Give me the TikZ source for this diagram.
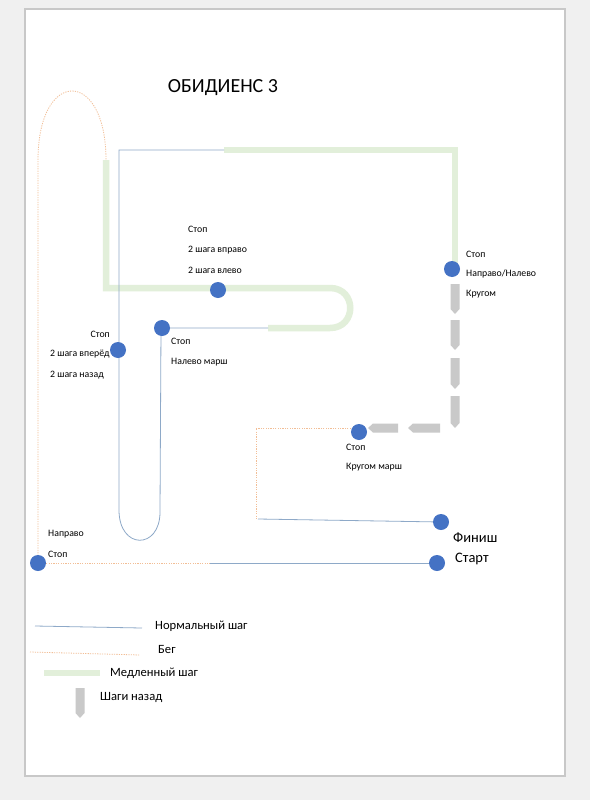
\documentclass[tikz,border=0pt]{standalone}
\usepackage{fontspec}
\setmainfont{Carlito}
\definecolor{pagebg}{HTML}{F0F0F0}
\definecolor{pageedge}{HTML}{C8C8C8}
\definecolor{walkblue}{HTML}{8EA9C8}
\definecolor{runorange}{HTML}{F2BE96}
\definecolor{slowgreen}{HTML}{E2EFDA}
\definecolor{dotblue}{HTML}{4472C4}
\definecolor{backgray}{HTML}{C9C9C9}
\tikzset{
  walk/.style={draw=walkblue, line width=0.8pt},
  run/.style={draw=runorange, line width=0.8pt, dash pattern=on 1.2pt off 1.2pt},
  slow/.style={draw=slowgreen, line width=6.5pt},
  dot/.style={circle, fill=dotblue, inner sep=0pt, minimum size=16pt},
  lbl/.style={anchor=west, inner sep=0pt, font=\fontsize{9.8}{11}\selectfont},
  leg/.style={anchor=west, inner sep=0pt, font=\fontsize{12.6}{14}\selectfont},
  big/.style={anchor=west, inner sep=0pt, font=\fontsize{14.5}{16}\selectfont},
  backarrow/.style={fill=backgray, draw=none}
}
\newcommand{\downarrowshape}[3]{% cx, top, bottom
  \fill[backarrow] (#1-4.5,#2) -- (#1+4.5,#2) -- (#1+4.5,#3-5) -- (#1,#3) -- (#1-4.5,#3-5) -- cycle;}
\newcommand{\leftarrowshape}[3]{% cy, left, right
  \fill[backarrow] (#2,#1) -- (#2+5,#1-4.5) -- (#3,#1-4.5) -- (#3,#1+4.5) -- (#2+5,#1+4.5) -- cycle;}
\begin{document}
\begin{tikzpicture}[x=1pt,y=-1pt]
% page
\fill[pagebg] (0,0) rectangle (590,800);
\useasboundingbox (0,0) rectangle (590,800);
\filldraw[fill=white, draw=pageedge, line width=2pt] (25,9) rectangle (565,776);

% title
\node[anchor=center, inner sep=0pt, font=\fontsize{20}{22}\selectfont] (title) at (223,88) {ОБИДИЕНС 3};

% coordinates
\coordinate (gA) at (106,160);
\coordinate (gB) at (106,288);
\coordinate (gC) at (330,288);
\coordinate (gD) at (330,328);
\coordinate (gE) at (268,328);
\coordinate (gF) at (224,150);
\coordinate (gG) at (455,150);
\coordinate (gH) at (455,263);

% slow (green)
\draw[slow] (gA) -- (gB) -- (gC) .. controls (357,288) and (357,328) .. (gD) -- (gE);
\draw[slow] (gF) -- (gG) -- (gH);

% normal walk (blue)
\draw[walk] (gF) -- (119,150) -- (119,510) .. controls (119,550) and (160,550) .. (160,512) -- (161,328) -- (gE);

% running (orange dotted): big arc at left
\draw[run] (38,563) -- (38,160) .. controls (38,68) and (106,68) .. (gA);

% dots
\node[dot] (d1) at (218,290) {};
\node[dot] (d2) at (118,350) {};
\node[dot] (d3) at (162,328) {};
\node[dot] (d4) at (452,269) {};
\node[dot] (d5) at (359,432) {};
\node[dot] (finish) at (441,522) {};
\node[dot] (start) at (437,563) {};
\node[dot] (d8) at (38,563) {};

% start line
\coordinate (sMid) at (210,563);
\draw[run] (d8) -- (sMid);
\draw[walk] (sMid) -- (start);

% finish path
\coordinate (fA) at (256,428);
\coordinate (fB) at (256,519);
\draw[run] (d5.west |- 0,428) -- (fA) -- (fB);
\draw[walk] (258,519) -- (finish);

% backward steps
\downarrowshape{455}{284}{314}
\downarrowshape{455}{320}{350}
\downarrowshape{455}{358}{389}
\downarrowshape{455}{396}{428}
\leftarrowshape{428}{408}{440}
\leftarrowshape{428}{368}{398}

% labels
\node[lbl] at (188,229) {Стоп};
\node[lbl] at (188,250) {2 шага вправо};
\node[lbl] at (188,270) {2 шага влево};

\node[lbl, anchor=east] at (110,334) {Стоп};
\node[lbl] at (50,354) {2 шага вперёд};
\node[lbl] at (50,375) {2 шага назад};

\node[lbl] at (171,341) {Стоп};
\node[lbl] at (171,362) {Налево марш};

\node[lbl] at (466,254) {Стоп};
\node[lbl] at (466,274) {Направо/Налево};
\node[lbl] at (466,294) {Кругом};

\node[lbl] at (346,447) {Стоп};
\node[lbl] at (346,467) {Кругом марш};

\node[lbl] at (48,534) {Направо};
\node[lbl] at (48,554) {Стоп};

\node[big] at (453,538) {Финиш};
\node[big] at (455,559) {Старт};

% legend
\coordinate (l1a) at (35,626);
\coordinate (l1b) at (142,628);
\draw[walk] (l1a) -- (l1b);
\node[leg] at (155,626) {Нормальный шаг};
\coordinate (l2a) at (30,652);
\coordinate (l2b) at (140,655);
\draw[run] (l2a) -- (l2b);
\node[leg] at (158,649) {Бег};
\coordinate (l3a) at (44,673);
\coordinate (l3b) at (100,673);
\draw[slow] (l3a) -- (l3b);
\node[leg] at (110,673) {Медленный шаг};
\downarrowshape{80}{688}{718}
\node[leg] at (100,697) {Шаги назад};
\end{tikzpicture}
\end{document}
